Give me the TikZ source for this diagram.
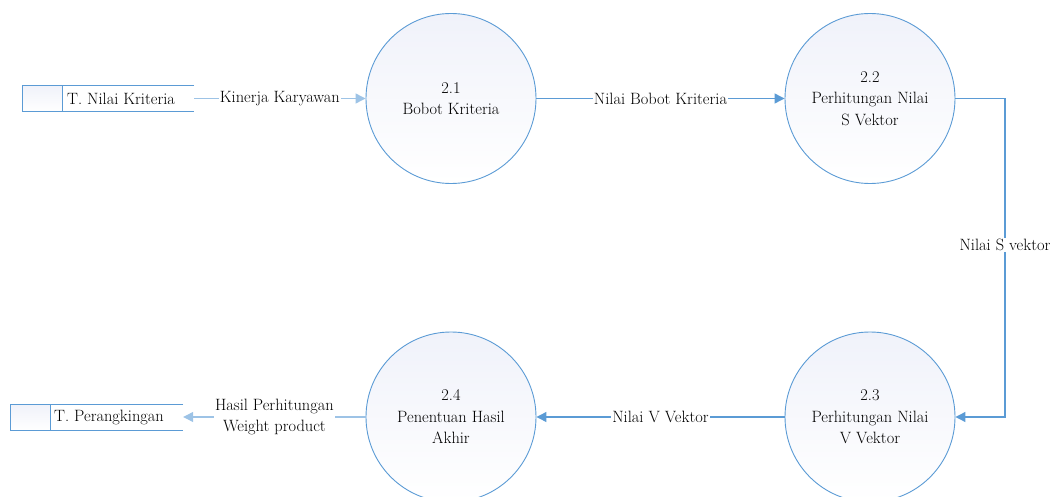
\documentclass[tikz,border=0pt]{standalone}
\usetikzlibrary{arrows.meta}
\definecolor{lineblue}{RGB}{91,155,213}
\definecolor{lightblue}{RGB}{157,195,230}
\definecolor{shadeblue}{RGB}{240,242,250}
\tikzset{
  dfdtext/.style={font=\fontsize{16.4}{21.5}\selectfont},
  proc/.style={circle, draw=lineblue, line width=0.9pt, minimum size=170pt, inner sep=0pt,
    align=center, dfdtext,
    top color=shadeblue, bottom color=white},
  storebox/.style={rectangle, minimum width=#1, minimum height=26pt, inner sep=0pt},
  storetext/.style={anchor=west, inner sep=0pt, dfdtext},
  storeline/.style={draw=lineblue, line width=1pt},
  flow/.style={draw=lineblue, line width=1.2pt, -{Triangle[length=10pt,width=10pt]}},
  flowlight/.style={draw=lightblue, line width=1.2pt, -{Triangle[length=10pt,width=10pt]}},
  flowlabel/.style={fill=white, inner sep=1pt, align=center, dfdtext},
}
\begin{document}
\begin{tikzpicture}[x=1pt, y=-1pt]
  \useasboundingbox (0,0) rectangle (1061,497);

  % processes
  \node[proc] (p21) at (451,98.5) {2.1\\Bobot Kriteria};
  \node[proc] (p22) at (870,98.5) {2.2\\Perhitungan Nilai\\S Vektor};
  \node[proc] (p23) at (870,417) {2.3\\Perhitungan Nilai\\V Vektor};
  \node[proc] (p24) at (451,417) {2.4\\Penentuan Hasil\\Akhir};

  % data store: T. Nilai Kriteria
  \node[storebox=171pt] (s1) at (108.5,98.5) {};
  \coordinate (s1d) at (62,98.5);
  \fill[top color=shadeblue, bottom color=white]
    (s1.north west) rectangle (s1d |- s1.south);
  \draw[storeline] (s1.north east) -- (s1.north west) -- (s1.south west) -- (s1.south east);
  \draw[storeline] (s1d |- s1.north) -- (s1d |- s1.south);
  \node[storetext] (s1t) at (67,98.5) {T. Nilai Kriteria};

  % data store: T. Perangkingan
  \node[storebox=172pt] (s2) at (97,417.5) {};
  \coordinate (s2d) at (50,417.5);
  \fill[top color=shadeblue, bottom color=white]
    (s2.north west) rectangle (s2d |- s2.south);
  \draw[storeline] (s2.north east) -- (s2.north west) -- (s2.south west) -- (s2.south east);
  \draw[storeline] (s2d |- s2.north) -- (s2d |- s2.south);
  \node[storetext] (s2t) at (54,417.5) {T. Perangkingan};

  % data flows
  \draw[flowlight] (s1.east |- p21) -- node[flowlabel] (l1) {Kinerja Karyawan} (p21.west);
  \draw[flow] (p21.east) -- node[flowlabel] (l2) {Nilai Bobot Kriteria} (p22.west);
  \coordinate (bend1) at (1005,98.5);
  \coordinate (bend2) at (1005,417);
  \draw[flow] (p22.east) -- (bend1) -- node[flowlabel, pos=0.46] (l3) {Nilai S vektor} (bend2) -- (p23.east);
  \draw[flow] (p23.west) -- node[flowlabel] (l4) {Nilai V Vektor} (p24.east);
  \draw[flowlight] (p24.west) -- node[flowlabel] (l5) {Hasil Perhitungan\\Weight product} (s2.east |- p24);
\end{tikzpicture}
\end{document}
